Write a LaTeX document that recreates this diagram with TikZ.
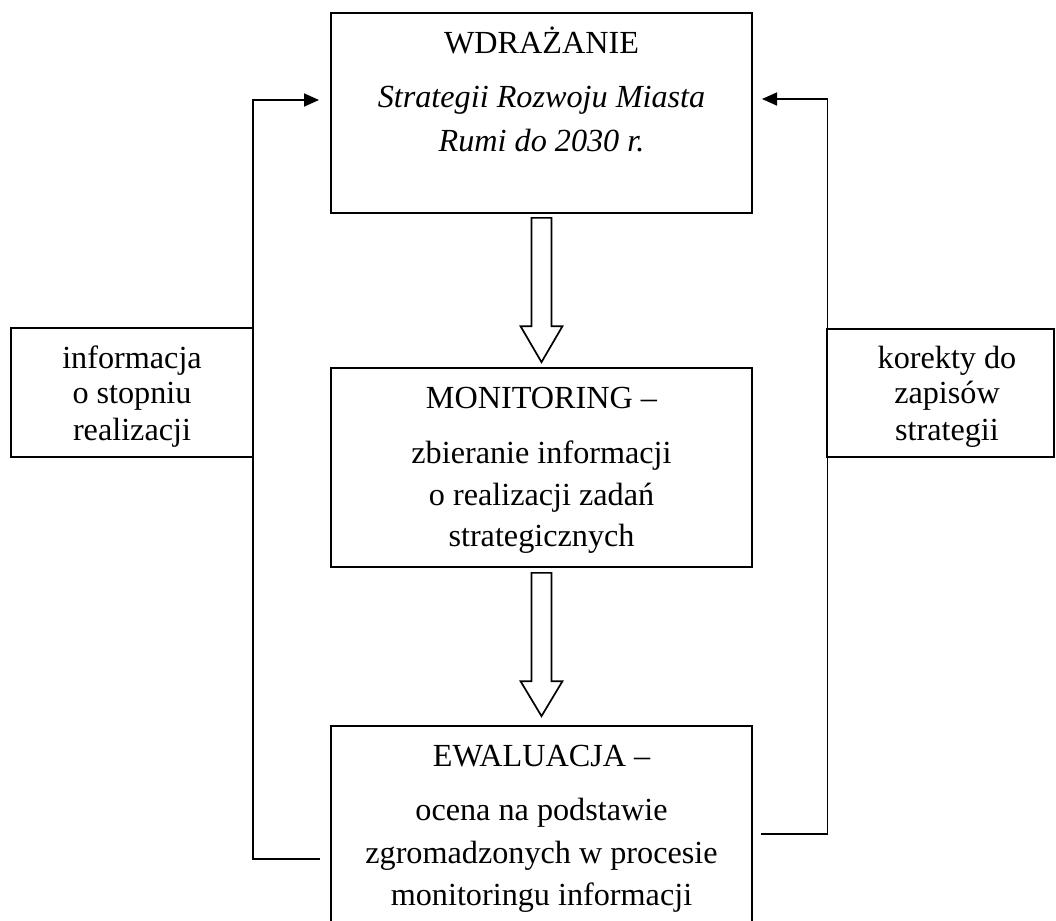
\documentclass[tikz,border=0pt]{standalone}
\usepackage{fontspec}
\setmainfont{Liberation Serif}
\usetikzlibrary{arrows.meta,calc}
\begin{document}
\begin{tikzpicture}[x=1pt,y=-1pt, line width=1.7pt,
  box/.style={draw, fill=white, rectangle, inner sep=0pt},
  txt/.style={anchor=base, inner sep=0pt, font=\fontsize{32.2}{38}\selectfont},
  itxt/.style={anchor=base, inner sep=0pt, font=\fontsize{32.2}{38}\selectfont\itshape},
  flow/.style={line width=1.7pt, line join=miter, -{Triangle[length=15pt,width=13pt]}},
  blockarrow/.style={draw, fill=white, line width=1.7pt, line join=miter}]
\clip (0,0) rectangle (1056,920);
\fill[white] (0,0) rectangle (1056,920);

% feedback loops (drawn first, boxes on top)
\coordinate (la) at (320,859);
\coordinate (lb) at (253,859);
\coordinate (lc) at (253,100);
\coordinate (ld) at (319,100);
\coordinate (ra) at (761,834);
\coordinate (rb) at (827.5,834);
\coordinate (rc) at (827.5,99);
\coordinate (rd) at (762,99);
\draw[flow] (la) -- (lb) -- (lc) -- (ld);
\draw[flow] (ra) -- (rb) -- (rc) -- (rd);

% main boxes
\node[box, minimum width=421pt, minimum height=200pt] (wdr) at (541.5,113) {};
\node[box, minimum width=421pt, minimum height=199pt] (mon) at (541.5,467.5) {};
\node[box, minimum width=421pt, minimum height=214pt] (ewa) at (541.5,833) {};
% side boxes
\node[box, minimum width=242pt, minimum height=129pt] (info) at (132,392.5) {};
\node[box, minimum width=227pt, minimum height=128pt] (kor) at (940.5,393) {};

% hollow block arrows
\coordinate (t1) at ($(wdr.south)+(0,4)$);
\coordinate (p1) at ($(mon.north)+(0,-5)$);
\coordinate (h1) at ($(p1)+(0,-36)$);
\draw[blockarrow] ($(t1)+(-10,0)$) -- ($(t1)+(10,0)$) -- ($(h1)+(10,0)$) -- ($(h1)+(21,0)$)
  -- (p1) -- ($(h1)+(-21,0)$) -- ($(h1)+(-10,0)$) -- cycle;
\coordinate (t2) at ($(mon.south)+(0,5)$);
\coordinate (p2) at ($(ewa.north)+(0,-9)$);
\coordinate (h2) at ($(p2)+(0,-35)$);
\draw[blockarrow] ($(t2)+(-10,0)$) -- ($(t2)+(10,0)$) -- ($(h2)+(10,0)$) -- ($(h2)+(21,0)$)
  -- (p2) -- ($(h2)+(-21,0)$) -- ($(h2)+(-10,0)$) -- cycle;

% texts
\node[txt]  (w1) at (541.5,54)  {WDRAŻANIE};
\node[itxt] (w2) at (541.5,108) {Strategii Rozwoju Miasta};
\node[itxt] (w3) at (541.5,152) {Rumi do 2030 r.};

\node[txt] (m1) at (541.5,408) {MONITORING –};
\node[txt] (m2) at (541.5,463) {zbieranie informacji};
\node[txt] (m3) at (541.5,505) {o realizacji zadań};
\node[txt] (m4) at (541.5,546) {strategicznych};

\node[txt] (e1) at (541.5,766) {EWALUACJA –};
\node[txt] (e2) at (541.5,820) {ocena na podstawie};
\node[txt] (e3) at (541.5,863) {zgromadzonych w procesie};
\node[txt] (e4) at (541.5,905) {monitoringu informacji};

\node[txt] (i1) at (132,368) {informacja};
\node[txt] (i2) at (132,403) {o stopniu};
\node[txt] (i3) at (132,440) {realizacji};

\node[txt] (k1) at (947,368) {korekty do};
\node[txt] (k2) at (947,403) {zapisów};
\node[txt] (k3) at (947,440) {strategii};
\end{tikzpicture}
\end{document}
